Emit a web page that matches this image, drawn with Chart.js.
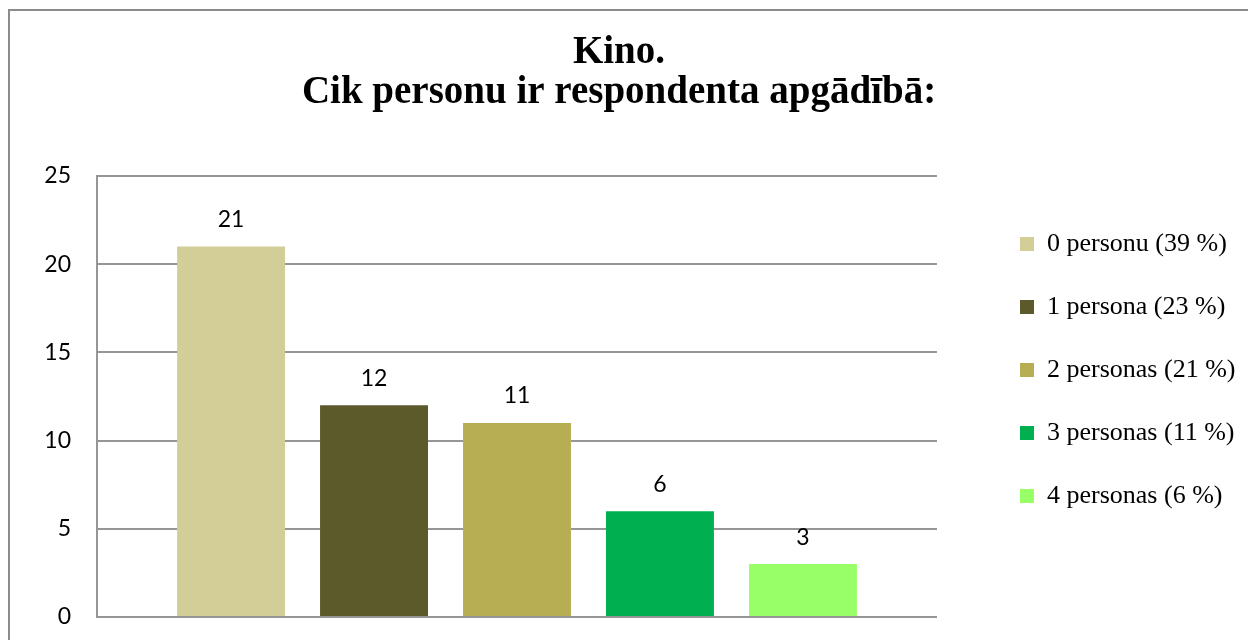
<!DOCTYPE html>
<html>
<head>
<meta charset="utf-8">
<script src="https://cdn.jsdelivr.net/npm/chart.js@4.4.1/dist/chart.umd.min.js"></script>
<style>
  html, body { margin: 0; padding: 0; background: #fff; overflow: hidden; }
  #frame { position: absolute; left: 8px; top: 9px; width: 1400px; height: 800px; border: 2px solid #8c8c8c; box-sizing: border-box; }
  #wrap { position: absolute; left: 0; top: 0; width: 1248px; height: 640px; }
</style>
</head>
<body>
<div id="frame"></div>
<div id="wrap"><canvas id="c" width="1248" height="640"></canvas></div>
<script>
// Survey answers: number of dependants per respondent
const titleLines = ['Kino.', 'Cik personu ir respondenta apgādībā:'];
const seriesNames = ['0 personu (39 %)', '1 persona (23 %)', '2 personas (21 %)', '3 personas (11 %)', '4 personas (6 %)'];
const seriesValues = [21, 12, 11, 6, 3];
const seriesColors = ['#D3CE97', '#5C5A2A', '#B7AE54', '#00B050', '#99FF66'];
const yTicks = [0, 5, 10, 15, 20, 25];

// value labels above each bar
const valueLabels = {
  id: 'valueLabels',
  afterDatasetsDraw(chart) {
    const ctx = chart.ctx;
    ctx.save();
    ctx.font = '23px Lato';
    ctx.fillStyle = '#000';
    ctx.textAlign = 'center';
    ctx.textBaseline = 'middle';
    chart.data.datasets.forEach((ds, i) => {
      const meta = chart.getDatasetMeta(i);
      meta.data.forEach((bar, j) => {
        ctx.fillText(String(ds.data[j]), bar.x, bar.y - 27);
      });
    });
    ctx.restore();
  }
};

const datasets = seriesNames.map((name, i) => ({
  label: name,
  data: [seriesValues[i]],
  backgroundColor: seriesColors[i],
  borderWidth: 0,
  categoryPercentage: 0.851,
  barPercentage: 0.755
}));

new Chart(document.getElementById('c'), {
  type: 'bar',
  data: { labels: [''], datasets },
  plugins: [valueLabels],
  options: {
    responsive: false,
    animation: false,
    events: [],
    layout: { padding: { left: 0, right: 10, top: 0, bottom: 23 } },
    plugins: {
      tooltip: { enabled: false },
      title: {
        display: true,
        text: titleLines,
        color: '#000',
        font: { family: '"Liberation Serif", "Times New Roman", serif', size: 39, weight: 'bold', lineHeight: '40px' },
        padding: { top: 33, bottom: 63 }
      },
      legend: {
        position: 'right',
        align: 'start',
        maxWidth: 255,
        title: { display: true, text: '', font: { size: 10, lineHeight: '10px' }, padding: { top: 184, bottom: 0 } },
        labels: {
          color: '#000',
          boxWidth: 14,
          boxHeight: 14,
          padding: 37,
          font: { family: '"Liberation Serif", "Times New Roman", serif', size: 26, lineHeight: '30px' }
        }
      }
    },
    scales: {
      x: { display: false },
      y: {
        min: 0,
        max: 25,
        afterBuildTicks(s) { s.ticks = yTicks.map(v => ({ value: v })); },
        afterFit(s) { s.width = 97; },
        grid: { color: '#969696', lineWidth: 2, drawTicks: true, tickLength: 26, tickColor: 'rgba(0,0,0,0)' },
        border: { display: true, color: '#969696', width: 2 },
        ticks: { color: '#000', padding: 0, font: { family: 'Lato', size: 23 } }
      },
      gap: {
        position: 'right',
        display: true,
        afterFit(s) { s.width = 46; },
        grid: { display: false, drawTicks: false },
        border: { display: false },
        ticks: { display: false }
      }
    }
  }
});
</script>
</body>
</html>
